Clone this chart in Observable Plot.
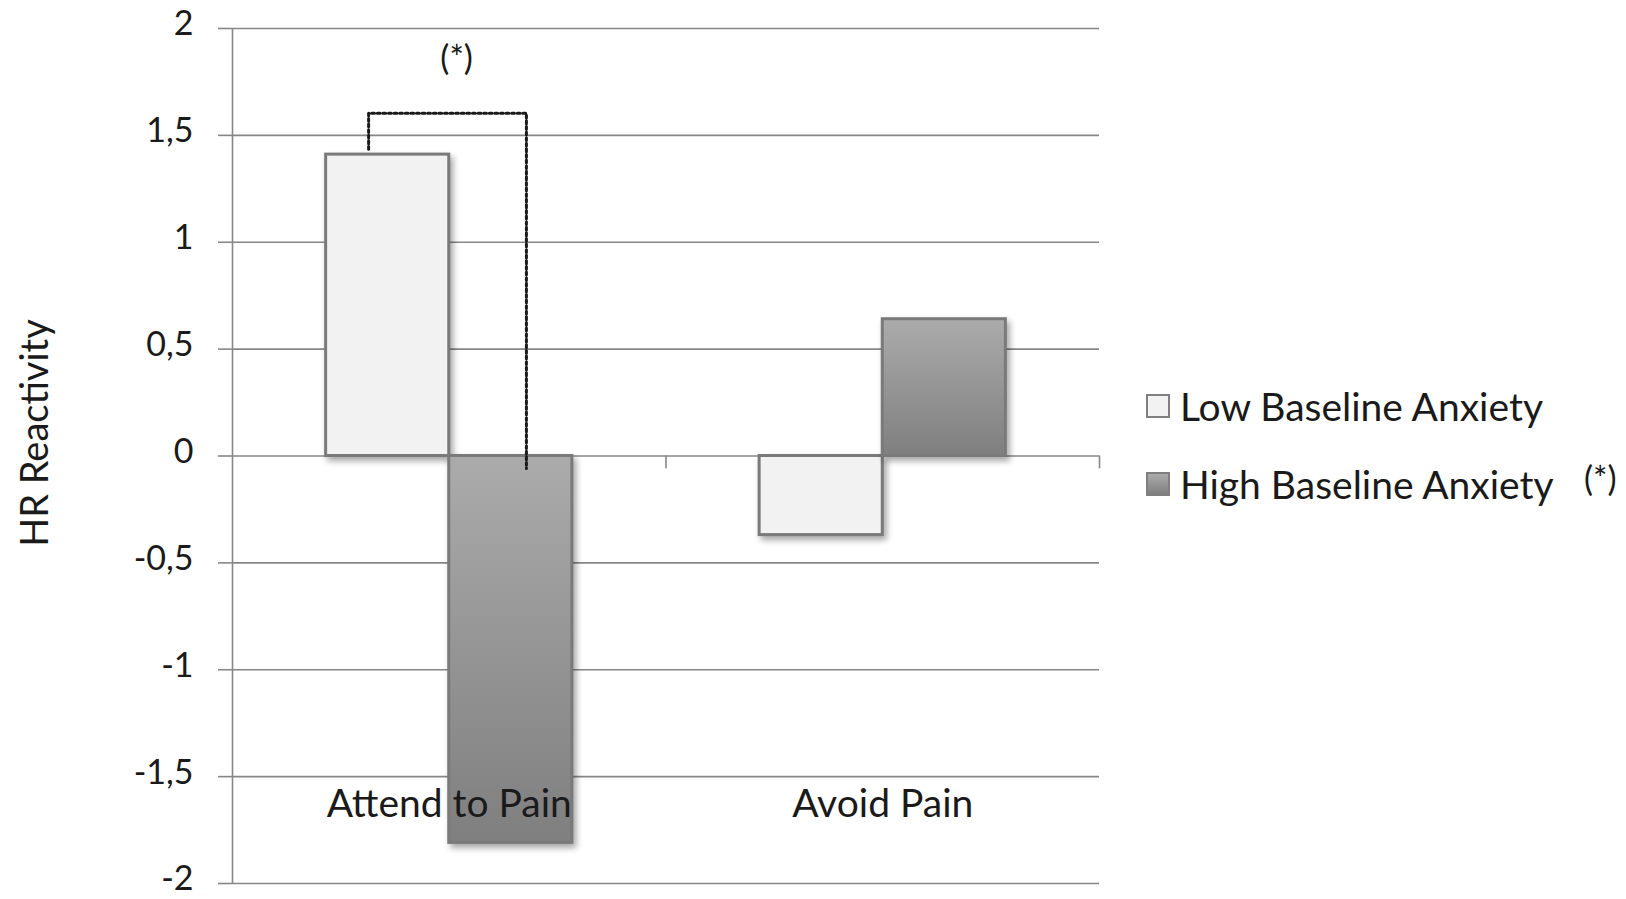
<!DOCTYPE html>
<html>
<head>
<meta charset="utf-8">
<script src="https://cdn.jsdelivr.net/npm/d3@7"></script>
<script src="https://cdn.jsdelivr.net/npm/@observablehq/plot@0.6"></script>
<style>
  html, body { margin: 0; padding: 0; background: #fff; }
  #wrap { position: relative; width: 1626px; height: 899px; font-family: Lato, "Open Sans", sans-serif; color: #1a1a1a; }
  #wrap svg { position: absolute; left: 0; top: 0; }
  g[aria-label="rect"] rect { filter: drop-shadow(3px 4px 3px rgba(0,0,0,0.35)); }
  .legend { position: absolute; left: 1146px; font-size: 39px; }
  .legend .row { position: absolute; left: 0; height: 40px; display: flex; align-items: center; white-space: nowrap; }
  .legend .sw { width: 24px; height: 24px; box-sizing: border-box; border: 2px solid #7f7f7f; margin-right: 10px; }
  .legend .star { position: absolute; font-size: 34px; white-space: nowrap; line-height: 40px; }
</style>
</head>
<body>
<div id="wrap"></div>
<script>
const categories = ["Attend to Pain", "Avoid Pain"];
const seriesNames = ["Low Baseline Anxiety", "High Baseline Anxiety"];
const lowValues = [1.41, -0.37];
const highValues = [-1.81, 0.64];
const yTicks = [-2, -1.5, -1, -0.5, 0, 0.5, 1, 1.5, 2];
const yTickLabels = ["-2", "-1,5", "-1", "-0,5", "0", "0,5", "1", "1,5", "2"];
const bracketX = [0.314, 0.314, 0.678, 0.678];
const bracketY = [1.435, 1.604, 1.604, -0.058];
const starLabel = "(*)";
const starX = [0.517];
const starY = [1.855];

const barW = 0.284;
const table = [];
categories.forEach((c, i) => {
  table.push({category: c, series: seriesNames[0], value: lowValues[i], x1: i + 0.5 - barW, x2: i + 0.5});
  table.push({category: c, series: seriesNames[1], value: highValues[i], x1: i + 0.5, x2: i + 0.5 + barW});
});
const bracket = bracketX.map((x, i) => ({x, y: bracketY[i]}));

const gridColor = "#878787";

const svg = Plot.plot({
  width: 1626,
  height: 899,
  marginLeft: 232,
  marginRight: 527,
  marginTop: 28,
  marginBottom: 16,
  style: {fontFamily: "Lato, 'Open Sans', sans-serif", fontSize: "38px", color: "#1a1a1a", background: "transparent"},
  x: {domain: [0, 2], axis: null},
  y: {domain: [-2, 2]},
  marks: [
    Plot.gridY(yTicks, {stroke: gridColor, strokeOpacity: 1, strokeWidth: 1.6}),
    Plot.axisY(yTicks, {
      tickSize: 14, tickPadding: 25, stroke: gridColor, strokeWidth: 1.6,
      tickFormat: (d) => yTickLabels[yTicks.indexOf(d)], label: null, fontSize: 34
    }),
    Plot.ruleX([0], {stroke: gridColor, strokeWidth: 1.6}),
    Plot.ruleX([1, 2], {y1: 0, y2: -0.06, stroke: gridColor, strokeWidth: 1.6}),
    Plot.rectY(table, {
      filter: (d) => d.series === seriesNames[0],
      x1: "x1", x2: "x2", y1: 0, y2: "value",
      fill: "#f2f2f2", stroke: "#7a7a7a", strokeWidth: 3
    }),
    Plot.rectY(table, {
      filter: (d) => d.series === seriesNames[1],
      x1: "x1", x2: "x2", y1: 0, y2: "value",
      fill: "url(#hiGrad)", stroke: "#7a7a7a", strokeWidth: 3
    }),
    Plot.line(bracket, {x: "x", y: "y", stroke: "#1a1a1a", strokeWidth: 3, strokeDasharray: "2.8 2.8"}),
    Plot.text([starLabel], {x: starX, y: starY, fontSize: 34}),
    Plot.text(categories, {x: (d, i) => i + 0.5, frameAnchor: "bottom", lineAnchor: "middle", dy: -79, fontSize: 39}),
    Plot.text(["HR Reactivity"], {frameAnchor: "left", textAnchor: "middle", lineAnchor: "middle", dx: -197, dy: -23, rotate: -90, fontSize: 38})
  ]
});

const defs = d3.select(svg).insert("defs", ":first-child");
const grad = defs.append("linearGradient").attr("id", "hiGrad")
  .attr("x1", 0).attr("y1", 0).attr("x2", 0).attr("y2", 1);
grad.append("stop").attr("offset", "0%").attr("stop-color", "#ababab");
grad.append("stop").attr("offset", "100%").attr("stop-color", "#7f7f7f");

// nudge the y tick labels up a little so the lowest one stays inside the picture
d3.select(svg).selectAll('g[aria-label="y-axis tick label"]').attr("transform", function () {
  const t = this.getAttribute("transform") || "";
  return t + " translate(0,-4)";
});

const wrap = document.getElementById("wrap");
wrap.appendChild(svg);

// legend
const legend = document.createElement("div");
legend.className = "legend";
legend.style.top = "0px";
const rowTops = [386, 464];
const swatchFills = ["#f2f2f2", "linear-gradient(#ababab, #7f7f7f)"];
seriesNames.forEach((name, i) => {
  const row = document.createElement("div");
  row.className = "row";
  row.style.top = rowTops[i] + "px";
  const sw = document.createElement("div");
  sw.className = "sw";
  sw.style.background = swatchFills[i];
  const t = document.createElement("span");
  t.textContent = name;
  row.appendChild(sw);
  row.appendChild(t);
  legend.appendChild(row);
});
const star = document.createElement("div");
star.className = "star";
star.textContent = starLabel;
star.style.left = (1584 - 1146) + "px";
star.style.top = "458px";
legend.appendChild(star);
wrap.appendChild(legend);
</script>
</body>
</html>
